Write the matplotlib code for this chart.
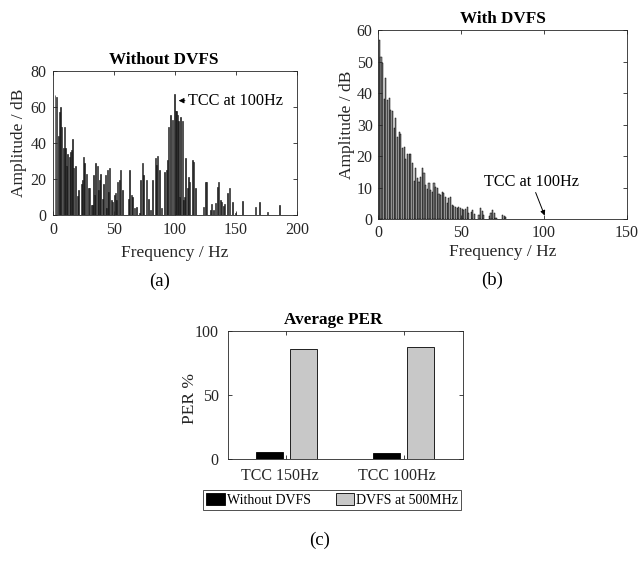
import numpy as np
import matplotlib
matplotlib.use('Agg')
import matplotlib.pyplot as plt
import matplotlib.transforms as mtransforms

plt.rcParams['font.family'] = ['Liberation Serif', 'DejaVu Serif']
plt.rcParams['xtick.direction'] = 'in'
plt.rcParams['ytick.direction'] = 'in'

# (a) spectrum without DVFS
freq_a = [1.4, 2.7, 4.1, 5, 6, 6.8, 8.2, 9, 10, 11, 12, 13, 14, 15, 16, 17, 18,
          20, 21, 23, 24, 25, 26, 27, 29, 30, 31, 32, 33, 34, 35, 36, 37, 38, 39,
          40.5, 41.5, 42.5, 43.5, 44.5, 45.5, 46.5, 47.7, 48.8, 50, 51, 52, 53, 54,
          55, 56.5, 61.6, 63, 64, 65, 66.8, 68.5, 70.7, 72, 73.4, 74.5, 76.7, 78,
          80, 81.6, 83.8, 84.9, 86, 87, 89, 91, 92.6, 93.7, 94.8, 96.4, 98, 99.4,
          100.2, 101, 102, 103, 104, 104.9, 105.8, 107, 108, 109, 110, 111, 112,
          114, 115, 116.7, 123, 124.7, 126, 128.8, 130, 132, 133, 134.8, 136, 137,
          138, 139.7, 141, 143.5, 145, 147.4, 149.6, 155.6, 165.8, 169, 176, 185.8]
amp_a = [66.7, 65.7, 44, 57, 60, 49, 37, 49, 37, 27, 34, 32, 35, 36, 42, 26, 27,
         10.5, 14, 17, 19.5, 32, 29, 23, 15, 15, 5.5, 5.5, 22, 11, 29, 27, 14, 19.5, 23,
         9, 17, 22, 3.7, 25, 13, 26, 8.3, 7, 11, 12.4, 8.3, 18.5, 19.5,
         25, 14, 8.7, 25, 11, 10, 3.7, 4.6, 1, 19.5, 29, 22, 19.5, 9,
         3, 19.5, 31.5, 28, 33, 25, 3.7, 24, 25, 30.5, 49, 55.5, 52.8, 67,
         58, 58, 55.5, 52, 10, 54.6, 52, 8.3, 10, 31.5, 15, 21, 18.5,
         30.5, 29.6, 15, 4.6, 18.5, 18.5, 3, 6, 2.8, 6.5, 15.7, 18.5, 8.3,
         7.4, 5, 6, 12, 15, 7.4, 1.3, 7.8, 4.3, 7.4, 1.5, 5.5]

# (b) spectrum with DVFS
freq_b = [0.6, 1.6, 2.6, 3.6, 4.6, 5.6, 6.6, 7.6, 8.6, 9.6, 10.6, 11.6, 12.6, 13.6,
          14.6, 15.6, 16.6, 17.6, 18.6, 19.6, 20.6, 21.6, 22.6, 23.6, 24.6, 25.6,
          26.6, 27.6, 28.6, 29.6, 30.6, 31.6, 32.6, 33.6, 34.6, 35.6, 36.6, 37.6,
          38.6, 39.6, 40.6, 41.6, 42.6, 43.6, 44.6, 45.6, 46.6, 47.6, 48.6, 49.6,
          50.6, 51.6, 52.6, 53.6, 54.6, 56, 56.8, 58, 60.8, 61.8, 62.8, 63.7, 67,
          68, 69, 70, 71, 75, 76, 77]
amp_b = [56.8, 51.3, 49.4, 38.1, 44.7, 37.8, 38.6, 34.6, 34.3, 28.8, 32, 26, 27.8, 27,
         22.5, 22.8, 19, 20.6, 20.6, 20.6, 17.7, 12.2, 16.4, 13, 11.9, 13.3,
         16.2, 14.6, 10.9, 9.5, 11.4, 9.3, 8.8, 11.6, 10.3, 10, 8, 7.7,
         8.8, 8.4, 7, 5.3, 6.6, 7.2, 4.5, 4.2, 3.8, 3.5, 4, 3.7,
         3.2, 3, 3.4, 3.8, 1.9, 2.4, 3, 1.6, 1.4, 3.5, 2.7, 1.4, 1,
         1.9, 3, 1.9, 0.5, 1.4, 1, 0.6]

# (c) average PER
groups = ['TCC 150Hz', 'TCC 100Hz']
per_without = [5.2, 4.4]
per_dvfs = [85.7, 87.8]

fig = plt.figure(figsize=(6.39, 5.65), dpi=100)


def style(ax, pad=5):
    ax.tick_params(top=True, right=True, length=3, width=0.6, labelsize=11.5,
                   pad=pad, colors='#262626', labelcolor='#262626')
    for s in ax.spines.values():
        s.set_linewidth(0.6)
        s.set_color('#262626')


# ---- (a)
ax1 = fig.add_axes([0.0834, 0.6195, 0.381, 0.2549])
cols_a = ['#3c3c3c' if i % 2 == 0 else '#808080' for i in range(len(freq_a))]
ax1.bar(freq_a, amp_a, width=0.8, color=cols_a, edgecolor='black', linewidth=0.4)
ax1.set_xlim(0, 200)
ax1.set_ylim(0, 80)
ax1.set_xticks([0, 50, 100, 150, 200])
ax1.set_yticks([0, 20, 40, 60, 80])
ax1.set_title('Without DVFS', fontsize=12.3, fontweight='bold', pad=5, x=0.455)
ax1.set_xlabel('Frequency / Hz', fontsize=12.5, labelpad=5, color='#262626')
ax1.set_ylabel('Amplitude / dB', fontsize=12.5, color='#262626')
ax1.yaxis.set_label_coords(-0.108, 0.5)
ax1.annotate('TCC at 100Hz', xy=(103, 63.5), xytext=(110.5, 63.5), fontsize=11.7,
             va='center', ha='left',
             arrowprops=dict(arrowstyle='-|>', color='black', lw=0.6,
                             mutation_scale=8, shrinkA=0, shrinkB=0))
style(ax1)
fig.text(160 / 639, 1 - 281 / 565, '(a)', fontsize=13.5, ha='center', va='center')

# ---- (b)
ax2 = fig.add_axes([0.592, 0.6119, 0.389, 0.335])
ax2.bar(freq_b, amp_b, width=0.7, color='#8c8c8c', edgecolor='black', linewidth=0.35)
ax2.set_xlim(0, 150)
ax2.set_ylim(0, 60)
ax2.set_xticks([0, 50, 100, 150])
ax2.set_yticks([0, 10, 20, 30, 40, 50, 60])
ax2.set_title('With DVFS', fontsize=12.3, fontweight='bold', pad=5)
ax2.set_xlabel('Frequency / Hz', fontsize=12.5, labelpad=2, color='#262626')
ax2.set_ylabel('Amplitude / dB', fontsize=12.5, color='#262626')
ax2.yaxis.set_label_coords(-0.095, 0.5)
ax2.annotate('TCC at 100Hz', xy=(100.4, 1.2), xytext=(92.4, 11.9), fontsize=11.7,
             ha='center', va='center',
             arrowprops=dict(arrowstyle='-|>', color='black', lw=0.7,
                             mutation_scale=7, shrinkA=0, shrinkB=0))
style(ax2, pad=4)
fig.text(492 / 639, 1 - 280 / 565, '(b)', fontsize=13.5, ha='center', va='center')

# ---- (c)
ax3 = fig.add_axes([0.3563, 0.1876, 0.3678, 0.2265])
x = np.arange(1, len(groups) + 1)
ax3.bar(x - 0.145, per_without, width=0.23, color='black', edgecolor='black',
        linewidth=0.6, label='Without DVFS')
ax3.bar(x + 0.145, per_dvfs, width=0.23, color='#c8c8c8', edgecolor='black',
        linewidth=0.6, label='DVFS at 500MHz')
ax3.set_xlim(0.5, 2.5)
ax3.set_ylim(0, 100)
ax3.set_xticks(x)
ax3.set_xticklabels(groups)
ax3.set_yticks([0, 50, 100])
ax3.set_title('Average PER', fontsize=12.3, fontweight='bold', pad=5, x=0.449)
ax3.set_ylabel('PER %', fontsize=12.5, color='#262626')
ax3.yaxis.set_label_coords(-0.125, 0.47)
style(ax3, pad=6.5)
shift = mtransforms.ScaledTranslation(-7 / 100, 0, fig.dpi_scale_trans)
for lab in ax3.get_xticklabels():
    lab.set_transform(lab.get_transform() + shift)
leg = ax3.legend(loc='upper center', bbox_to_anchor=(0.444, -0.24), ncol=2,
                 fontsize=10, frameon=True, fancybox=False, borderpad=0.25,
                 handlelength=1.35, handleheight=0.95, handletextpad=0.1,
                 columnspacing=1.8, borderaxespad=0)
leg.get_frame().set_edgecolor('black')
leg.get_frame().set_linewidth(0.6)
fig.text(320 / 639, 1 - 540 / 565, '(c)', fontsize=13.5, ha='center', va='center')

fig.savefig('out.png', dpi=100)
